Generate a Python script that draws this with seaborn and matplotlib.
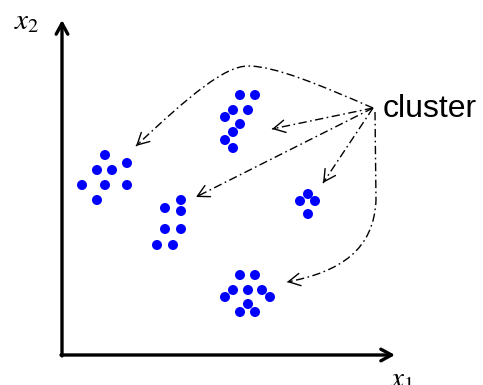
import numpy as np
import pandas as pd
import matplotlib
matplotlib.use("Agg")
import matplotlib.pyplot as plt
from matplotlib.path import Path
from matplotlib.patches import PathPatch
import seaborn as sns

# Feature-space samples, grouped by cluster (x1, x2)
cluster_a_x1 = [4.3, 6.5, 3.5, 5.0, 2.0, 4.3, 6.5, 3.5]
cluster_a_x2 = [20.0, 19.2, 18.5, 18.5, 17.0, 17.0, 17.0, 15.5]

cluster_b_x1 = [17.8, 19.3, 17.1, 18.6, 16.3, 17.8, 17.1, 16.3, 17.1]
cluster_b_x2 = [26.0, 26.0, 24.5, 24.5, 23.8, 23.1, 22.3, 21.5, 20.7]

cluster_c_x1 = [11.9, 10.3, 11.9, 10.3, 11.9, 9.5, 11.1]
cluster_c_x2 = [15.5, 14.7, 14.4, 12.6, 12.6, 11.0, 11.0]

cluster_d_x1 = [24.6, 23.8, 25.3, 24.6]
cluster_d_x2 = [16.1, 15.4, 15.4, 14.1]

cluster_e_x1 = [17.8, 19.3, 17.1, 18.6, 20.0, 16.3, 20.8, 18.6, 17.8, 19.3]
cluster_e_x2 = [8.0, 8.0, 6.5, 6.5, 6.5, 5.8, 5.8, 5.1, 4.3, 4.3]

label_text = "cluster"
axis_labels = ["$x_1$", "$x_2$"]

groups = {
    "A": (cluster_a_x1, cluster_a_x2),
    "B": (cluster_b_x1, cluster_b_x2),
    "C": (cluster_c_x1, cluster_c_x2),
    "D": (cluster_d_x1, cluster_d_x2),
    "E": (cluster_e_x1, cluster_e_x2),
}
df = pd.concat(
    [pd.DataFrame({"x1": a, "x2": b, "cluster": k}) for k, (a, b) in groups.items()],
    ignore_index=True,
)

sns.set_style("white")
plt.rcParams["mathtext.fontset"] = "stix"
plt.rcParams["text.color"] = "black"

fig = plt.figure(figsize=(4.83, 3.85), dpi=100)
ax = fig.add_axes([0, 0, 1, 1])
ax.set_xlim(-6.2, 42.1)
ax.set_ylim(-3.0, 35.5)
ax.axis("off")

sns.scatterplot(data=df, x="x1", y="x2", color="#0000ff", s=52,
                edgecolor="none", legend=False, ax=ax, zorder=3)

# Coordinate axes with arrowheads
axis_kw = dict(arrowstyle="->,head_length=0.55,head_width=0.3", lw=2.4,
               color="black", shrinkA=0, shrinkB=0, mutation_scale=14)
ax.annotate("", xy=(0, 33.5), xytext=(0, -0.1), arrowprops=axis_kw)
ax.annotate("", xy=(33.3, 0), xytext=(-0.1, 0), arrowprops=axis_kw)

ax.text(-4.8, 32.6, axis_labels[1], fontsize=21, va="baseline", ha="left",
        color="black")
ax.text(32.8, -3.2, axis_labels[0], fontsize=21, va="baseline", ha="left",
        color="black")

ax.text(32.1, 23.8, label_text, fontsize=23, family="Liberation Sans",
        va="baseline", ha="left", color="black")

dash = (0, (6, 2.5, 1.2, 2.5))
line_kw = dict(color="black", lw=1.0, linestyle=dash)
head_kw = dict(arrowstyle="->,head_length=0.6,head_width=0.32", lw=1.0,
               color="black", shrinkA=0, shrinkB=0, mutation_scale=14)


def head(tip, prev):
    tip = np.asarray(tip, float)
    prev = np.asarray(prev, float)
    d = tip - prev
    d = d / np.hypot(*d)
    ax.annotate("", xy=tip, xytext=tip - 0.4 * d, arrowprops=head_kw)


origin = (31.1, 24.7)

# straight pointers
for tip in [(21.0, 22.6), (13.4, 15.8), (26.1, 17.2)]:
    ax.plot([origin[0], tip[0]], [origin[1], tip[1]], **line_kw)
    head(tip, origin)

# curved pointer over the top to the left group
verts = [origin, (25.8, 27.0), (21.3, 28.9), (18.6, 28.9),
         (16.3, 28.9), (12.8, 26.0), (7.4, 20.9)]
codes = [Path.MOVETO] + [Path.CURVE4] * 6
ax.add_patch(PathPatch(Path(verts, codes), fill=False, **line_kw))
head(verts[-1], verts[-2])

# curved pointer down the right side to the bottom group
verts = [(31.3, 24.3), (31.4, 15.5), (31.2, 10.5), (27.8, 8.3), (22.5, 7.3)]
codes = [Path.MOVETO, Path.LINETO, Path.CURVE4, Path.CURVE4, Path.CURVE4]
ax.add_patch(PathPatch(Path(verts, codes), fill=False, **line_kw))
head(verts[-1], verts[-2])

fig.savefig("out.png", dpi=100)
